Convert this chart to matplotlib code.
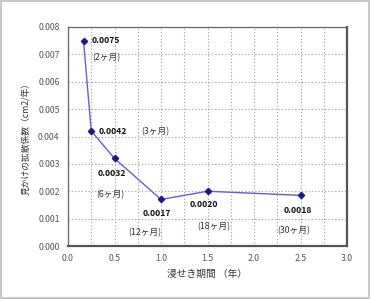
import matplotlib
matplotlib.use("Agg")
import matplotlib.pyplot as plt
from matplotlib.ticker import MultipleLocator
from matplotlib.patches import Rectangle

plt.rcParams['font.family'] = ['Noto Sans CJK JP', 'DejaVu Sans']

# data
years = [2/12, 3/12, 6/12, 12/12, 18/12, 30/12]
coef = [0.0075, 0.0042, 0.0032, 0.0017, 0.0020, 0.00185]
value_labels = ["0.0075", "0.0042", "0.0032", "0.0017", "0.0020", "0.0018"]
month_labels = ["(2ヶ月)", "(3ヶ月)", "(6ヶ月)", "(12ヶ月)", "(18ヶ月)", "(30ヶ月)"]

# label offsets in pixels (value label, month label)
val_off = [(8, 0), (7, 0), (-17, -15), (-18, -14), (-18, -13), (-17, -15)]
mon_off = [(9, -17), (50, -1), (-18, -36), (-33, -33), (-10, -35), (-23, -35)]

fig = plt.figure(figsize=(3.70, 2.99), dpi=100)
fig.patches.append(Rectangle((0.003, 0.003), 0.994, 0.994, transform=fig.transFigure,
                             fill=False, edgecolor='#c8c8c8', linewidth=1.5))
ax = fig.add_axes([68/370, 1 - 246/299, (347-68)/370, (246-27)/299])

ax.plot(years, coef, color='#6060d0', linewidth=1.0, marker='D', markersize=3.2,
        markerfacecolor='#1a1a8c', markeredgecolor='#1a1a8c', zorder=3)

for x, y, v, m, vo, mo in zip(years, coef, value_labels, month_labels, val_off, mon_off):
    ax.annotate(v, (x, y), xytext=vo, textcoords='offset pixels', fontsize=6.2,
                fontweight='bold', ha='left', va='center', color='#111111')
    ax.annotate(m, (x, y), xytext=mo, textcoords='offset pixels', fontsize=6.3,
                ha='left', va='center', color='#333333')

ax.set_xlim(0, 3.0)
ax.set_ylim(0, 0.008)
ax.xaxis.set_major_locator(MultipleLocator(0.5))
ax.xaxis.set_minor_locator(MultipleLocator(0.25))
ax.yaxis.set_major_locator(MultipleLocator(0.001))
ax.xaxis.set_major_formatter(matplotlib.ticker.FormatStrFormatter('%.1f'))
ax.yaxis.set_major_formatter(matplotlib.ticker.FormatStrFormatter('%.3f'))
ax.grid(True, which='both', linestyle=(0, (1, 2)), color='#9a9a9a', linewidth=0.8)
ax.tick_params(which='both', length=0, labelsize=6.3, labelcolor='#555555', pad=6)

for s in ['left', 'top']:
    ax.spines[s].set_color('#666666')
    ax.spines[s].set_linewidth(0.9)
for s in ['right', 'bottom']:
    ax.spines[s].set_color('#555555')
    ax.spines[s].set_linewidth(1.6)

ax.set_xlabel("浸せき期間 （年）", fontsize=7, color='#333333', labelpad=4)
ax.set_ylabel("見かけの拡散係数（cm2/年）", fontsize=6.3, color='#333333', labelpad=5)

fig.savefig("out.png", dpi=100)
